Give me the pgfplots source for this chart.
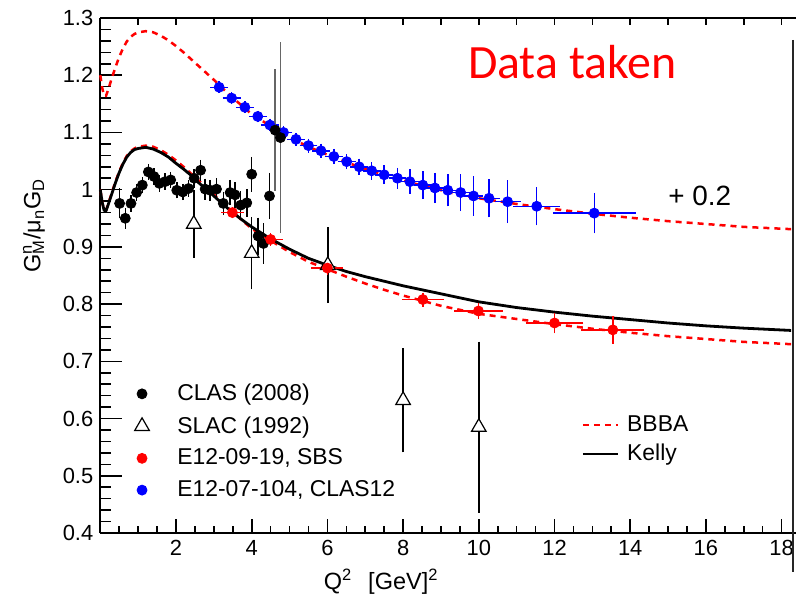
\documentclass[border=0pt]{standalone}
\usepackage{fontspec}
\setmainfont{Liberation Sans}
\newfontfamily\calib{Carlito}
\usepackage{pgfplots}
\pgfplotsset{compat=1.18}
\usepackage{pgfplotstable}

% BBBA fit, lower copy
\pgfplotstableread{
x y
0 1.000
0.05 0.978
0.1 0.964
0.15 0.964
0.2 0.973
0.3 0.994
0.4 1.014
0.5 1.032
0.6 1.047
0.7 1.059
0.8 1.067
0.9 1.072
1.0 1.075
1.2 1.077
1.4 1.075
1.6 1.069
1.8 1.061
2.0 1.051
2.2 1.040
2.4 1.028
2.6 1.016
2.8 1.004
3.0 0.992
3.25 0.976
3.5 0.961
3.75 0.946
4.0 0.932
4.5 0.911
5.0 0.891
5.5 0.874
6.0 0.861
6.5 0.848
7.0 0.836
7.5 0.825
8.0 0.815
8.5 0.806
9.0 0.797
9.5 0.790
10.0 0.783
11.0 0.774
12.0 0.765
13.0 0.757
14.0 0.750
15.0 0.744
16.0 0.739
17.0 0.734
18.25 0.730
}\bbbalow

% BBBA fit shifted by +0.2
\pgfplotstableread{
x y
0 1.200
0.05 1.178
0.1 1.164
0.15 1.164
0.2 1.173
0.3 1.194
0.4 1.214
0.5 1.232
0.6 1.247
0.7 1.259
0.8 1.267
0.9 1.272
1.0 1.275
1.2 1.277
1.4 1.275
1.6 1.269
1.8 1.261
2.0 1.251
2.2 1.240
2.4 1.228
2.6 1.216
2.8 1.204
3.0 1.192
3.25 1.176
3.5 1.161
3.75 1.146
4.0 1.132
4.5 1.111
5.0 1.091
5.5 1.075
6.0 1.061
6.5 1.048
7.0 1.036
7.5 1.026
8.0 1.016
8.5 1.007
9.0 0.999
9.5 0.991
10.0 0.985
11.0 0.975
12.0 0.966
13.0 0.958
14.0 0.951
15.0 0.945
16.0 0.940
17.0 0.935
18.25 0.931
}\bbbaup

% Kelly fit
\pgfplotstableread{
x y
0 1.000
0.05 0.978
0.1 0.964
0.15 0.963
0.2 0.972
0.3 0.992
0.4 1.012
0.5 1.030
0.6 1.045
0.7 1.057
0.8 1.065
0.9 1.070
1.0 1.072
1.2 1.074
1.4 1.071
1.6 1.065
1.8 1.057
2.0 1.046
2.2 1.036
2.4 1.025
2.6 1.012
2.8 1.001
3.0 0.989
3.25 0.974
3.5 0.960
3.75 0.947
4.0 0.935
4.5 0.914
5.0 0.896
5.5 0.880
6.0 0.868
6.5 0.857
7.0 0.848
7.5 0.840
8.0 0.832
9.0 0.818
10.0 0.804
11.0 0.794
12.0 0.786
13.0 0.779
14.0 0.773
15.0 0.767
16.0 0.762
17.0 0.758
18.25 0.754
}\kelly

% CLAS (2008)
\pgfplotstableread{
x y ey
0.51 0.976 0.020
0.66 0.950 0.012
0.81 0.976 0.008
0.96 0.995 0.008
1.11 1.008 0.008
1.27 1.031 0.008
1.42 1.023 0.008
1.56 1.011 0.008
1.71 1.014 0.008
1.86 1.017 0.008
2.02 0.999 0.008
2.18 0.996 0.008
2.33 1.002 0.008
2.48 1.020 0.010
2.65 1.034 0.012
2.77 1.001 0.012
2.90 0.999 0.012
3.07 1.001 0.013
3.25 0.976 0.014
3.43 0.995 0.016
3.56 0.991 0.016
3.71 0.973 0.018
3.87 0.977 0.018
4.00 1.027 0.024
4.17 0.919 0.026
4.31 0.906 0.029
4.47 0.989 0.034
}\clas

\pgfplotstableread{
x y ey
4.62 1.104 0.100
4.76 1.091 0.160
}\clashi

% SLAC (1992)
\pgfplotstableread{
x y ey
2.47 0.940 0.053
4.00 0.889 0.057
6.01 0.868 0.060
8.00 0.632 0.085
10.00 0.585 0.143
}\slac

% E12-09-19, SBS
\pgfplotstableread{
x y ex ey
3.49 0.960 0.20 0.004
4.50 0.913 0.22 0.005
6.00 0.863 0.33 0.006
8.52 0.808 0.46 0.006
9.99 0.788 0.55 0.008
12.00 0.767 0.67 0.012
13.54 0.755 0.74 0.018
}\sbs

% E12-07-104, CLAS12
\pgfplotstableread{
x y ex ey
3.14 1.179 0.14 0.004
3.47 1.160 0.14 0.004
3.82 1.144 0.14 0.004
4.16 1.128 0.14 0.004
4.48 1.113 0.14 0.005
4.84 1.100 0.14 0.005
5.17 1.088 0.14 0.005
5.50 1.077 0.14 0.006
5.83 1.068 0.14 0.006
6.17 1.058 0.14 0.007
6.51 1.049 0.14 0.007
6.84 1.040 0.14 0.008
7.17 1.033 0.14 0.009
7.50 1.026 0.14 0.010
7.85 1.020 0.14 0.012
8.18 1.014 0.14 0.015
8.52 1.008 0.14 0.018
8.84 1.003 0.14 0.020
9.18 0.999 0.14 0.022
9.52 0.995 0.14 0.026
9.86 0.989 0.15 0.028
10.27 0.985 0.20 0.027
10.76 0.979 0.25 0.031
11.53 0.971 0.52 0.027
13.05 0.959 1.00 0.029
}\clastwelve

\pgfplotsset{
  frame/.style={
    scale only axis, width=347.85bp, height=257.5bp,
    xmin=0, xmax=18.38, ymin=0.4, ymax=1.3,
    clip=false,
    axis line style={line width=0.9bp},
    every tick/.style={black, line width=0.8bp},
    tick align=inside,
  },
  ebars/.style={
    /pgfplots/error bars/error bar style={line width=0.75bp},
    /pgfplots/error bars/error mark options={line width=0.75bp, mark size=1.8bp}},
}

\begin{document}
\begin{tikzpicture}
\begin{axis}[frame,
  axis x line*=box, axis y line*=left, tick pos=left,
  xtick={2,4,...,18}, minor xtick={0.5,1,...,18},
  ytick={0.4,0.5,...,1.31}, minor ytick={0.42,0.44,...,1.3},
  xtick style={/pgfplots/major tick length=7bp, /pgfplots/minor tick length=3.5bp},
  ytick style={/pgfplots/major tick length=11bp, /pgfplots/minor tick length=5.5bp},
  /pgf/number format/assume math mode=true,
  tick label style={font=\fontsize{11}{13}\selectfont},
  xlabel={Q\textsuperscript{2}\hspace{8bp}[GeV]\textsuperscript{2}},
  xlabel style={at={(axis cs:7.42,0.4)}, anchor=base, yshift=-28bp,
    font=\fontsize{11.8}{14}\selectfont},
  ylabel={G\rlap{\textsuperscript{n}}\textsubscript{M}/μ\textsubscript{n}G\textsubscript{D}},
  ylabel style={at={(axis cs:-1.752,0.937)}, anchor=center,
    font=\fontsize{11.8}{14}\selectfont},
  legend cell align=left,
  legend style={draw=none, fill=none, inner sep=0pt,
    at={(axis cs:0.9,0.668)}, anchor=north west,
    row sep=2.4bp, font=\fontsize{11.5}{13}\selectfont,
    nodes={inner sep=2bp, text depth=0.15em},
    /tikz/every odd column/.append style={column sep=12bp}},
]
\coordinate (O) at (rel axis cs:0,0);

\addplot[red, line width=1.25bp, dash pattern=on 3bp off 2.5bp, forget plot] table[x=x, y=y] {\bbbalow};
\addplot[red, line width=1.25bp, dash pattern=on 3bp off 2.5bp, forget plot] table[x=x, y=y] {\bbbaup};
\addplot[black, line width=1.4bp, forget plot] table[x=x, y=y] {\kelly};

\addplot[only marks, mark=*, mark size=2.5bp, black, ebars,
  error bars/.cd, y dir=both, y explicit]
  table[x=x, y=y, y error=ey] {\clas};
\addlegendentry{CLAS (2008)}

\addplot[only marks, mark=triangle*, mark size=4.2bp,
  mark options={fill=white, draw=black, line width=0.6bp}, black, ebars,
  error bars/.cd, y dir=both, y explicit]
  table[x=x, y=y, y error=ey] {\slac};
\addlegendentry{SLAC (1992)}

\addplot[only marks, mark=*, mark size=2.5bp, red, ebars,
  error bars/.cd, x dir=both, x explicit, y dir=both, y explicit]
  table[x=x, y=y, x error=ex, y error=ey] {\sbs};
\addlegendentry{E12-09-19, SBS}

\addplot[only marks, mark=*, mark size=2.5bp, blue, ebars,
  error bars/.cd, x dir=both, x explicit, y dir=both, y explicit]
  table[x=x, y=y, x error=ex, y error=ey] {\clastwelve};
\addlegendentry{E12-07-104, CLAS12}

\addplot[only marks, mark=*, mark size=2.5bp, black, forget plot, ebars,
  error bars/.cd, y dir=both, y explicit, error bar style={gray!80!black}]
  table[x=x, y=y, y error=ey] {\clashi};

\draw[line width=1bp, black!85] (axis cs:18.30,1.262) -- (axis cs:18.30,0.332);
\node[red, font=\calib\fontsize{24}{28}\selectfont] at (axis cs:12.47,1.223) {Data taken};
\node[font=\fontsize{14}{16}\selectfont] at (axis cs:15.84,0.989) {+ 0.2};
\end{axis}

\begin{axis}[frame,
  axis x line*=top, axis y line=none,
  xtick={1,...,18}, xticklabels={}, major tick length=3.5bp,
  legend cell align=left,
  legend image code/.code={\draw[#1] (0bp,0bp) -- (17.5bp,0bp);},
  legend style={draw=none, fill=none, inner sep=0pt,
    at={(axis cs:12.7,0.613)}, anchor=north west,
    row sep=1bp, font=\fontsize{11.5}{13}\selectfont,
    nodes={inner sep=2bp, text depth=0.15em},
    /tikz/every odd column/.append style={column sep=2bp}},
]
\addlegendimage{red, line width=1.25bp, dash pattern=on 3bp off 2.5bp}
\addlegendentry{BBBA}
\addlegendimage{black, line width=1.4bp}
\addlegendentry{Kelly}
\end{axis}

\pgfresetboundingbox
\path[use as bounding box] (O) ++(-50.15bp,-36bp) rectangle ++(398bp,302.5bp);
\end{tikzpicture}
\end{document}
